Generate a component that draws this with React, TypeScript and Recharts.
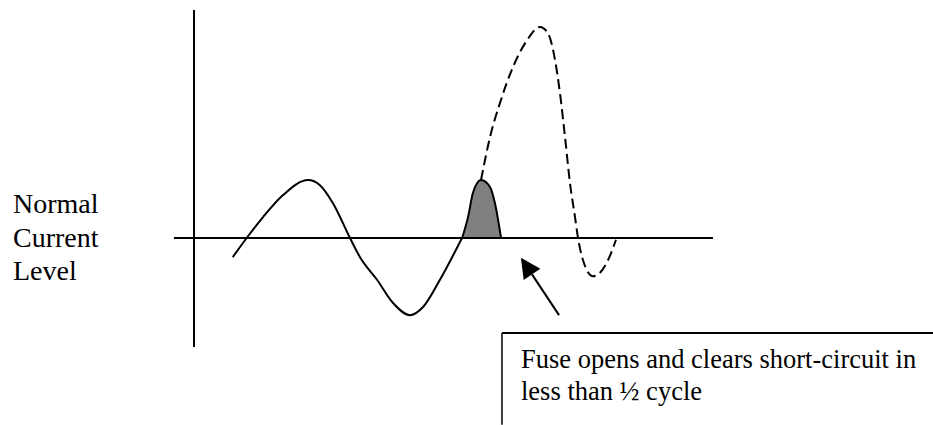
import { ComposedChart, Line, Area, XAxis, YAxis, ReferenceLine } from 'recharts'

// time in ms, current in per-unit of the normal peak
const normalTime = [2.98, 4.05, 5.31, 6.85, 8.77, 9.69, 10.69, 12.0, 12.77, 14.08, 15.31, 16.62, 17.62, 18.92, 20.62]
const normalCurrent = [-0.33, 0, 0.36, 0.74, 1.0, 0.91, 0.6, 0, -0.33, -0.72, -1.12, -1.33, -1.19, -0.72, 0]

const letThroughTime = [20.62, 21.08, 21.46, 22.08, 22.77, 23.15, 23.62]
const letThroughCurrent = [0, 0.36, 0.78, 1.0, 0.88, 0.6, 0]

const prospectiveTime = [22.08, 22.77, 23.54, 24.54, 25.62, 26.62, 27.23, 27.77, 28.15, 28.54, 28.92, 29.31, 29.54, 29.92, 30.69, 31.23, 31.85, 32.46]
const prospectiveCurrent = [1.0, 1.74, 2.33, 2.95, 3.41, 3.64, 3.53, 3.07, 2.5, 1.74, 0.95, 0.36, 0, -0.38, -0.66, -0.6, -0.38, -0.03]

const zip = (ts: number[], is: number[]) => ts.map((t, k) => ({ t, i: is[k] }))

const normalData = zip(normalTime, normalCurrent)
const letThroughData = zip(letThroughTime, letThroughCurrent)
const prospectiveData = zip(prospectiveTime, prospectiveCurrent)

const leftLabel = ['Normal', 'Current', 'Level']
const noteLines = ['Fuse opens and clears short-circuit in', 'less than ½ cycle']

function ArrowShape(props: any) {
  const { x1, y1, x2, y2 } = props
  const dx = x2 - x1
  const dy = y2 - y1
  const len = Math.sqrt(dx * dx + dy * dy)
  const ux = dx / len
  const uy = dy / len
  const head = 20
  const half = 10
  const bx = x2 - ux * head
  const by = y2 - uy * head
  const pts = `${x2},${y2} ${bx - uy * half},${by + ux * half} ${bx + uy * half},${by - ux * half}`
  return (
    <g>
      <line x1={x1} y1={y1} x2={bx} y2={by} stroke="#000" strokeWidth={2} />
      <polygon points={pts} fill="#000" />
    </g>
  )
}

export default function App() {
  const serif = '"Liberation Serif", "Times New Roman", serif'
  return (
    <div style={{ position: 'absolute', left: 0, top: 0, width: 933, height: 425, overflow: 'hidden', background: '#fff' }}>
      <ComposedChart width={933} height={425} margin={{ top: 6, right: 219, bottom: 71, left: 194 }}>
        <XAxis type="number" dataKey="t" domain={[0, 40]} hide />
        <YAxis type="number" dataKey="i" domain={[-2, 4]} hide />

        {/* axes */}
        <ReferenceLine segment={[{ x: -1.54, y: 0 }, { x: 39.92, y: 0 }]} stroke="#000" strokeWidth={2} ifOverflow="visible" />
        <ReferenceLine segment={[{ x: 0, y: 3.93 }, { x: 0, y: -1.88 }]} stroke="#000" strokeWidth={2} ifOverflow="visible" />

        {/* note box: top and left edges, the rest runs off the page */}
        <ReferenceLine segment={[{ x: 23.69, y: -1.64 }, { x: 56.85, y: -1.64 }]} stroke="#000" strokeWidth={2} ifOverflow="visible" />
        <ReferenceLine segment={[{ x: 23.69, y: -1.64 }, { x: 23.69, y: -3.22 }]} stroke="#000" strokeWidth={1.5} ifOverflow="visible" />

        <Area
          data={letThroughData}
          dataKey="i"
          type="monotone"
          baseValue={0}
          stroke="#000"
          strokeWidth={2}
          fill="#808080"
          fillOpacity={1}
          isAnimationActive={false}
        />
        <Line
          data={normalData}
          dataKey="i"
          type="monotone"
          stroke="#000"
          strokeWidth={2}
          dot={false}
          isAnimationActive={false}
        />
        <Line
          data={prospectiveData}
          dataKey="i"
          type="monotone"
          stroke="#000"
          strokeWidth={2}
          strokeDasharray="10 5"
          dot={false}
          isAnimationActive={false}
        />

        <ReferenceLine segment={[{ x: 28.08, y: -1.33 }, { x: 25.15, y: -0.34 }]} shape={ArrowShape} ifOverflow="visible" />
      </ComposedChart>

      <div style={{ position: 'absolute', left: 13, top: 187, fontFamily: serif, fontSize: 28, lineHeight: '33.5px', color: '#000' }}>
        {leftLabel.map((s) => (
          <div key={s}>{s}</div>
        ))}
      </div>

      <div style={{ position: 'absolute', left: 521, top: 343, fontFamily: serif, fontSize: 26.5, lineHeight: '32px', color: '#000', whiteSpace: 'nowrap' }}>
        {noteLines.map((s) => (
          <div key={s}>{s}</div>
        ))}
      </div>
    </div>
  )
}
